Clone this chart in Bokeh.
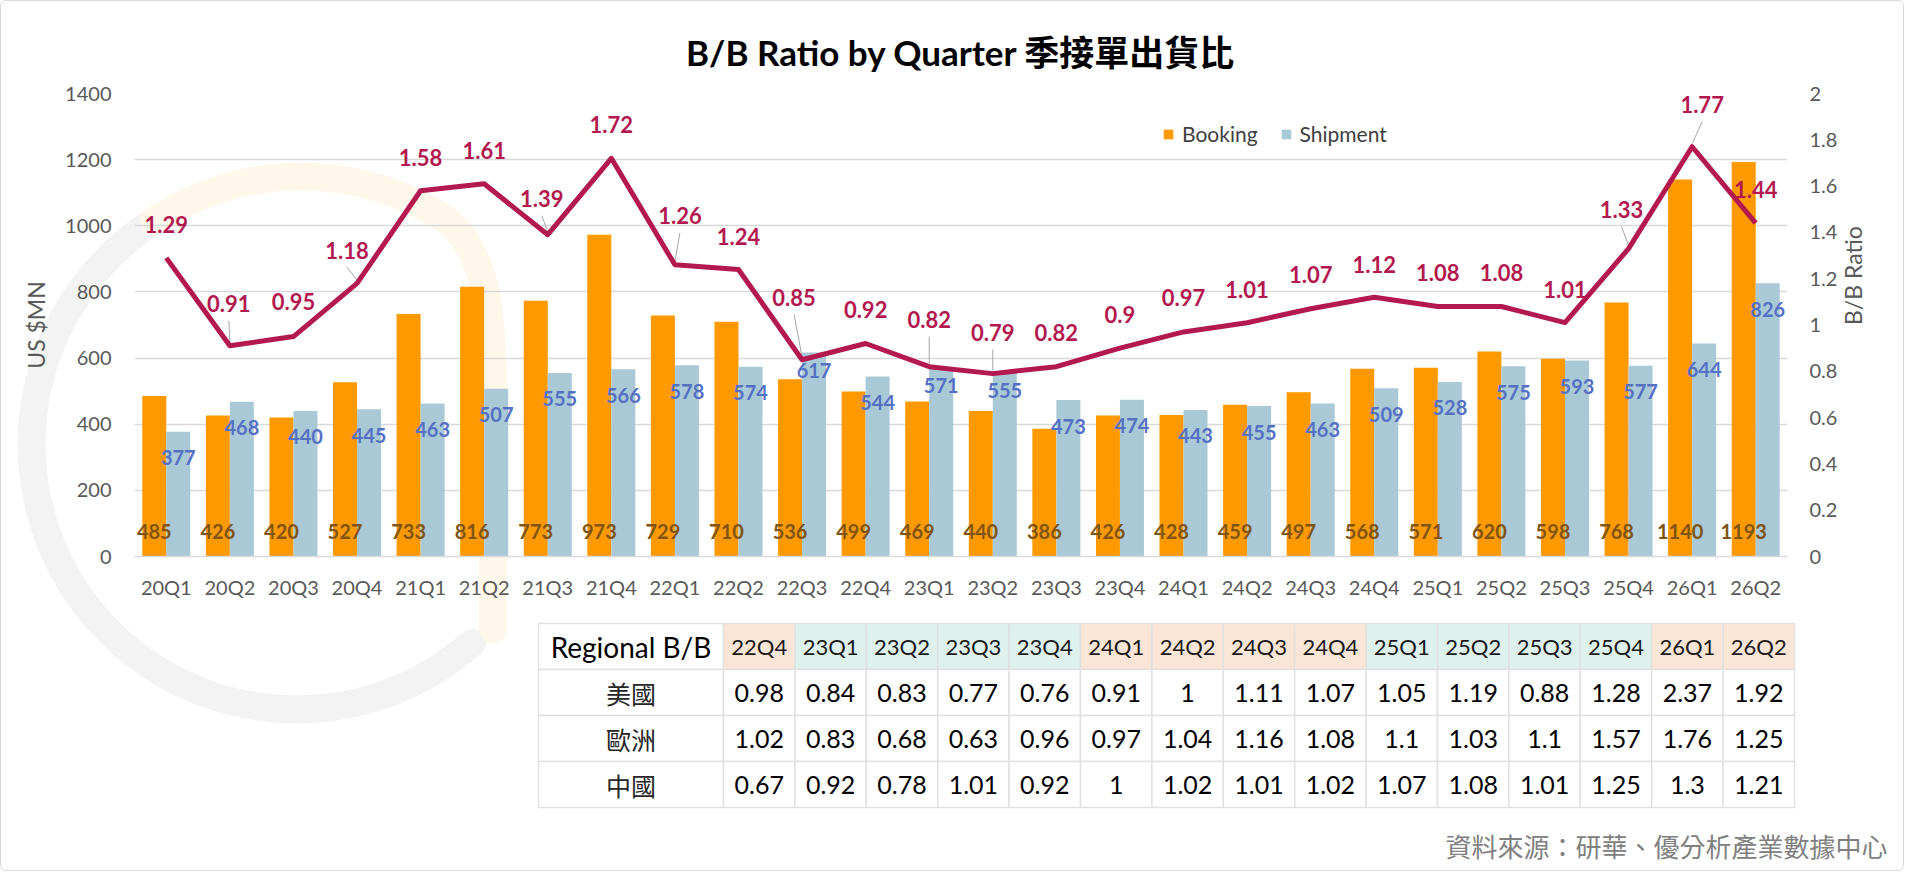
from bokeh.plotting import figure
from bokeh.models import (ColumnDataSource, FactorRange, Range1d, LinearAxis,
                          SingleIntervalTicker, NumeralTickFormatter, Legend, LegendItem)
from bokeh.transform import dodge
from bokeh.layouts import column
from bokeh.core.properties import value
from bokeh.embed import file_html
from bokeh.resources import INLINE
from urllib.parse import quote
import math

# data
quarters = ["20Q1", "20Q2", "20Q3", "20Q4", "21Q1", "21Q2", "21Q3", "21Q4",
            "22Q1", "22Q2", "22Q3", "22Q4", "23Q1", "23Q2", "23Q3", "23Q4",
            "24Q1", "24Q2", "24Q3", "24Q4", "25Q1", "25Q2", "25Q3", "25Q4",
            "26Q1", "26Q2"]
booking = [485, 426, 420, 527, 733, 816, 773, 973, 729, 710, 536, 499, 469,
           440, 386, 426, 428, 459, 497, 568, 571, 620, 598, 768, 1140, 1193]
shipment = [377, 468, 440, 445, 463, 507, 555, 566, 578, 574, 617, 544, 571,
            555, 473, 474, 443, 455, 463, 509, 528, 575, 593, 577, 644, 826]
ratio = [1.29, 0.91, 0.95, 1.18, 1.58, 1.61, 1.39, 1.72, 1.26, 1.24, 0.85, 0.92,
         0.82, 0.79, 0.82, 0.9, 0.97, 1.01, 1.07, 1.12, 1.08, 1.08, 1.01, 1.33,
         1.77, 1.44]

table_quarters = ["22Q4", "23Q1", "23Q2", "23Q3", "23Q4", "24Q1", "24Q2", "24Q3",
                  "24Q4", "25Q1", "25Q2", "25Q3", "25Q4", "26Q1", "26Q2"]
regions = ["美國", "歐洲", "中國"]
bb_us = [0.98, 0.84, 0.83, 0.77, 0.76, 0.91, 1, 1.11, 1.07, 1.05, 1.19, 0.88, 1.28, 2.37, 1.92]
bb_eu = [1.02, 0.83, 0.68, 0.63, 0.96, 0.97, 1.04, 1.16, 1.08, 1.1, 1.03, 1.1, 1.57, 1.76, 1.25]
bb_cn = [0.67, 0.92, 0.78, 1.01, 0.92, 1, 1.02, 1.01, 1.02, 1.07, 1.08, 1.01, 1.25, 1.3, 1.21]

# label placement (screen px, up is positive) as the labels sit in the original
label_dx = [0, -1, 0, -10, 0, 0, -6, 0, 5, 0, -8, 0, 0, 0, 0, 0, 0, 0, 0, 0, 0, 0, 0, -7, 10, 0]
label_dy = [33, 42, 35, 33, 33, 33, 36, 34, 49, 33, 62, 34, 47, 41, 34, 34, 34, 33, 34, 33,
            34, 34, 33, 39, 42, 34]
leaders = [1, 3, 6, 8, 10, 12, 13, 23, 24]
ship_dy = [-26] * 26
for k in (10, 12, 13):
    ship_dy[k] = -18

FONT = "Lato, 'Noto Sans CJK TC', sans-serif"
CJK = "'Noto Sans CJK TC', sans-serif"
ORANGE = "#FF9900"
BLUE = "#A9C9D6"
LINE = "#B3194F"
GRID = "#D9D9D9"
AXTXT = "#595959"

W = 1902
TOP_H = 615
FRAME_L, FRAME_R, FRAME_T, FRAME_B = 133, 116, 92, 60
FRAME_W = W - FRAME_L - FRAME_R
FRAME_H = TOP_H - FRAME_T - FRAME_B
PXX = FRAME_W / len(quarters)
PXY = FRAME_H / 2.0
BAR_W = 24 / PXX

src = ColumnDataSource(dict(
    q=quarters, booking=booking, shipment=shipment, ratio=ratio,
    book_txt=[str(v) for v in booking], ship_txt=[str(v) for v in shipment],
    ratio_txt=["%g" % v for v in ratio],
    dx=label_dx, dy=[-d for d in label_dy], sdy=[-d for d in ship_dy],
))

p = figure(x_range=FactorRange(*quarters), y_range=Range1d(0, 1400),
           width=W, height=TOP_H, output_backend="svg", toolbar_location=None,
           min_border_left=FRAME_L, min_border_right=FRAME_R,
           min_border_top=FRAME_T, min_border_bottom=FRAME_B)
p.frame_align = False
p.extra_y_ranges = {"ratio": Range1d(0, 2)}
p.outline_line_color = None
p.background_fill_alpha = 0
p.border_fill_alpha = 0

p.title.text = "B/B Ratio by Quarter 季接單出貨比"
p.title.align = "center"
p.title.text_font = FONT
p.title.text_font_size = "35px"
p.title.text_font_style = "bold"
p.title.text_color = "#000000"
p.title.standoff = 42
p.title.offset = -9

b1 = p.vbar(x=dodge("q", -BAR_W / 2, range=p.x_range), top="booking", width=BAR_W,
            source=src, fill_color=ORANGE, line_color=None)
b2 = p.vbar(x=dodge("q", BAR_W / 2, range=p.x_range), top="shipment", width=BAR_W,
            source=src, fill_color=BLUE, line_color=None)

p.text(x=dodge("q", -BAR_W / 2, range=p.x_range), y=0, text="book_txt", source=src,
       y_offset=-25, text_align="center", text_baseline="middle",
       text_font=value(FONT), text_font_size="20px", text_font_style="bold",
       text_color="#7F5516")
p.text(x=dodge("q", BAR_W / 2, range=p.x_range), y="shipment", text="ship_txt", source=src,
       y_offset="sdy", text_align="center", text_baseline="middle",
       text_font=value(FONT), text_font_size="20px", text_font_style="bold",
       text_color="#5670C4")

# leader lines for the shifted ratio labels
for i in leaders:
    ls = ColumnDataSource(dict(q=[quarters[i]],
                               y0=[ratio[i] + (label_dy[i] - 17) / PXY],
                               y1=[ratio[i] + 3 / PXY]))
    p.segment(x0=dodge("q", label_dx[i] / PXX, range=p.x_range), y0="y0",
              x1="q", y1="y1", source=ls, y_range_name="ratio",
              line_color="#A6A6A6", line_width=1)

p.line(x="q", y="ratio", source=src, y_range_name="ratio", line_color=LINE,
       line_width=5, line_join="round")
p.text(x="q", y="ratio", text="ratio_txt", source=src, y_range_name="ratio",
       x_offset="dx", y_offset="dy", text_align="center", text_baseline="middle",
       text_font=value(FONT), text_font_size="22px", text_font_style="bold",
       text_color=LINE)

# axes
p.yaxis.ticker = SingleIntervalTicker(interval=200, num_minor_ticks=0)
p.yaxis.axis_label = "US $MN"
p.yaxis.axis_label_standoff = 12
p.yaxis.major_label_standoff = 23
right = LinearAxis(y_range_name="ratio", axis_label="B/B Ratio",
                   ticker=SingleIntervalTicker(interval=0.2, num_minor_ticks=0),
                   formatter=NumeralTickFormatter(format="0.[0]"))
right.axis_label_standoff = 13
right.major_label_standoff = 22
right.axis_label_orientation = math.pi / 2
p.add_layout(right, "right")

for ax in (p.yaxis[0], right, p.xaxis[0]):
    ax.major_tick_line_color = None
    ax.minor_tick_line_color = None
    ax.major_tick_out = 0
    ax.major_tick_in = 0
    ax.major_label_text_font = FONT
    ax.major_label_text_font_size = "20px"
    ax.major_label_text_color = AXTXT
    ax.axis_label_text_font = FONT
    ax.axis_label_text_font_size = "23px"
    ax.axis_label_text_font_style = "normal"
    ax.axis_label_text_color = AXTXT
for ax in (p.yaxis[0], right):
    ax.axis_line_color = None
p.xaxis.axis_line_color = GRID
p.xaxis.axis_line_width = 1.5
p.xaxis.major_label_standoff = 18
p.xgrid.grid_line_color = None
p.ygrid.grid_line_color = GRID
p.ygrid.grid_line_width = 1.5

legend = Legend(items=[LegendItem(label="Booking", renderers=[b1]),
                       LegendItem(label="Shipment", renderers=[b2])],
                orientation="horizontal", location=(1028, 410))
legend.glyph_width = 12
legend.glyph_height = 12
legend.label_standoff = 8
legend.spacing = 22
legend.padding = 0
legend.margin = 0
legend.border_line_color = None
legend.background_fill_alpha = 0
legend.label_text_font = FONT
legend.label_text_font_size = "21px"
legend.label_text_color = "#404040"
p.add_layout(legend, "center")

# regional table
TAB_H = 869 - TOP_H
t = figure(x_range=Range1d(0, W), y_range=Range1d(TAB_H, 0), width=W, height=TAB_H,
           output_backend="svg", toolbar_location=None, min_border=0,
           x_axis_location=None, y_axis_location=None)
t.frame_align = False
t.outline_line_color = None
t.grid.visible = False
t.background_fill_alpha = 0
t.border_fill_alpha = 0

X0, Y0, ROW_H, COL0_W, COL_W = 537, 7, 46, 185, 71.4
rows = [bb_us, bb_eu, bb_cn]
ncol = len(table_quarters)

# header cells
hl = [X0] + [X0 + COL0_W + j * COL_W for j in range(ncol)]
hr = [X0 + COL0_W] + [X0 + COL0_W + (j + 1) * COL_W for j in range(ncol)]
hfill = ["white"] + ["#FBE5D6" if int(q[:2]) % 2 == 0 else "#DFF1ED" for q in table_quarters]
t.quad(left=hl, right=hr, top=[Y0] * (ncol + 1), bottom=[Y0 + ROW_H] * (ncol + 1),
       fill_color=hfill, line_color="#E1E1E1", line_width=1.5)
# body cells
bl, br, bt, bb = [], [], [], []
for r in range(len(regions)):
    for j in range(ncol + 1):
        bl.append(hl[j])
        br.append(hr[j])
        bt.append(Y0 + (r + 1) * ROW_H)
        bb.append(Y0 + (r + 2) * ROW_H)
t.quad(left=bl, right=br, top=bt, bottom=bb, fill_color="white",
       line_color="#E1E1E1", line_width=1.5)

cx = [(a + b) / 2 for a, b in zip(hl, hr)]
t.text(x=[cx[0]], y=[Y0 + ROW_H / 2], text=["Regional B/B"], text_align="center",
       text_baseline="middle", text_font=value(FONT), text_font_size="28px",
       text_color="#000000")
t.text(x=cx[1:], y=[Y0 + ROW_H / 2] * ncol, text=table_quarters, text_align="center",
       text_baseline="middle", text_font=value(FONT), text_font_size="22px",
       text_color="#1A1A1A")
t.text(x=[cx[0]] * 3, y=[Y0 + (r + 1.5) * ROW_H for r in range(3)], text=regions,
       text_align="center", text_baseline="middle", text_font=value(CJK),
       text_font_size="25px", text_color="#262626")
vx, vy, vt = [], [], []
for r, vals in enumerate(rows):
    for j, v in enumerate(vals):
        vx.append(cx[j + 1])
        vy.append(Y0 + (r + 1.5) * ROW_H)
        vt.append("%g" % v)
t.text(x=vx, y=vy, text=vt, text_align="center", text_baseline="middle",
       text_font=value(FONT), text_font_size="25px", text_color="#000000")

t.text(x=[1886], y=[229], text=["資料來源：研華、優分析產業數據中心"], text_align="right",
       text_baseline="middle", text_font=value(CJK), text_font_size="26px",
       text_color="#808080")

# faint logo ring behind the chart (background decoration only)
logo = ("<svg xmlns='http://www.w3.org/2000/svg' width='1904' height='871'>"
        "<path d='M 153 220 A 265 265 0 1 0 471 642' fill='none' stroke='#F3F3F3' "
        "stroke-width='28' stroke-linecap='round'/>"
        "<path d='M 153 220 A 265 265 0 0 1 450 222 C 490 260 492 330 492 400 L 492 628' "
        "fill='none' stroke='#FFF7EA' stroke-width='28' stroke-linecap='round'/>"
        "</svg>")
bg = 'url("data:image/svg+xml;charset=utf-8,' + quote(logo) + '")'

layout = column(p, t, spacing=0,
                styles={"border": "1px solid #D9D9D9", "border-radius": "6px",
                        "background-color": "white", "background-image": bg,
                        "background-repeat": "no-repeat"})
open("out.html", "w").write(file_html(layout, INLINE))
